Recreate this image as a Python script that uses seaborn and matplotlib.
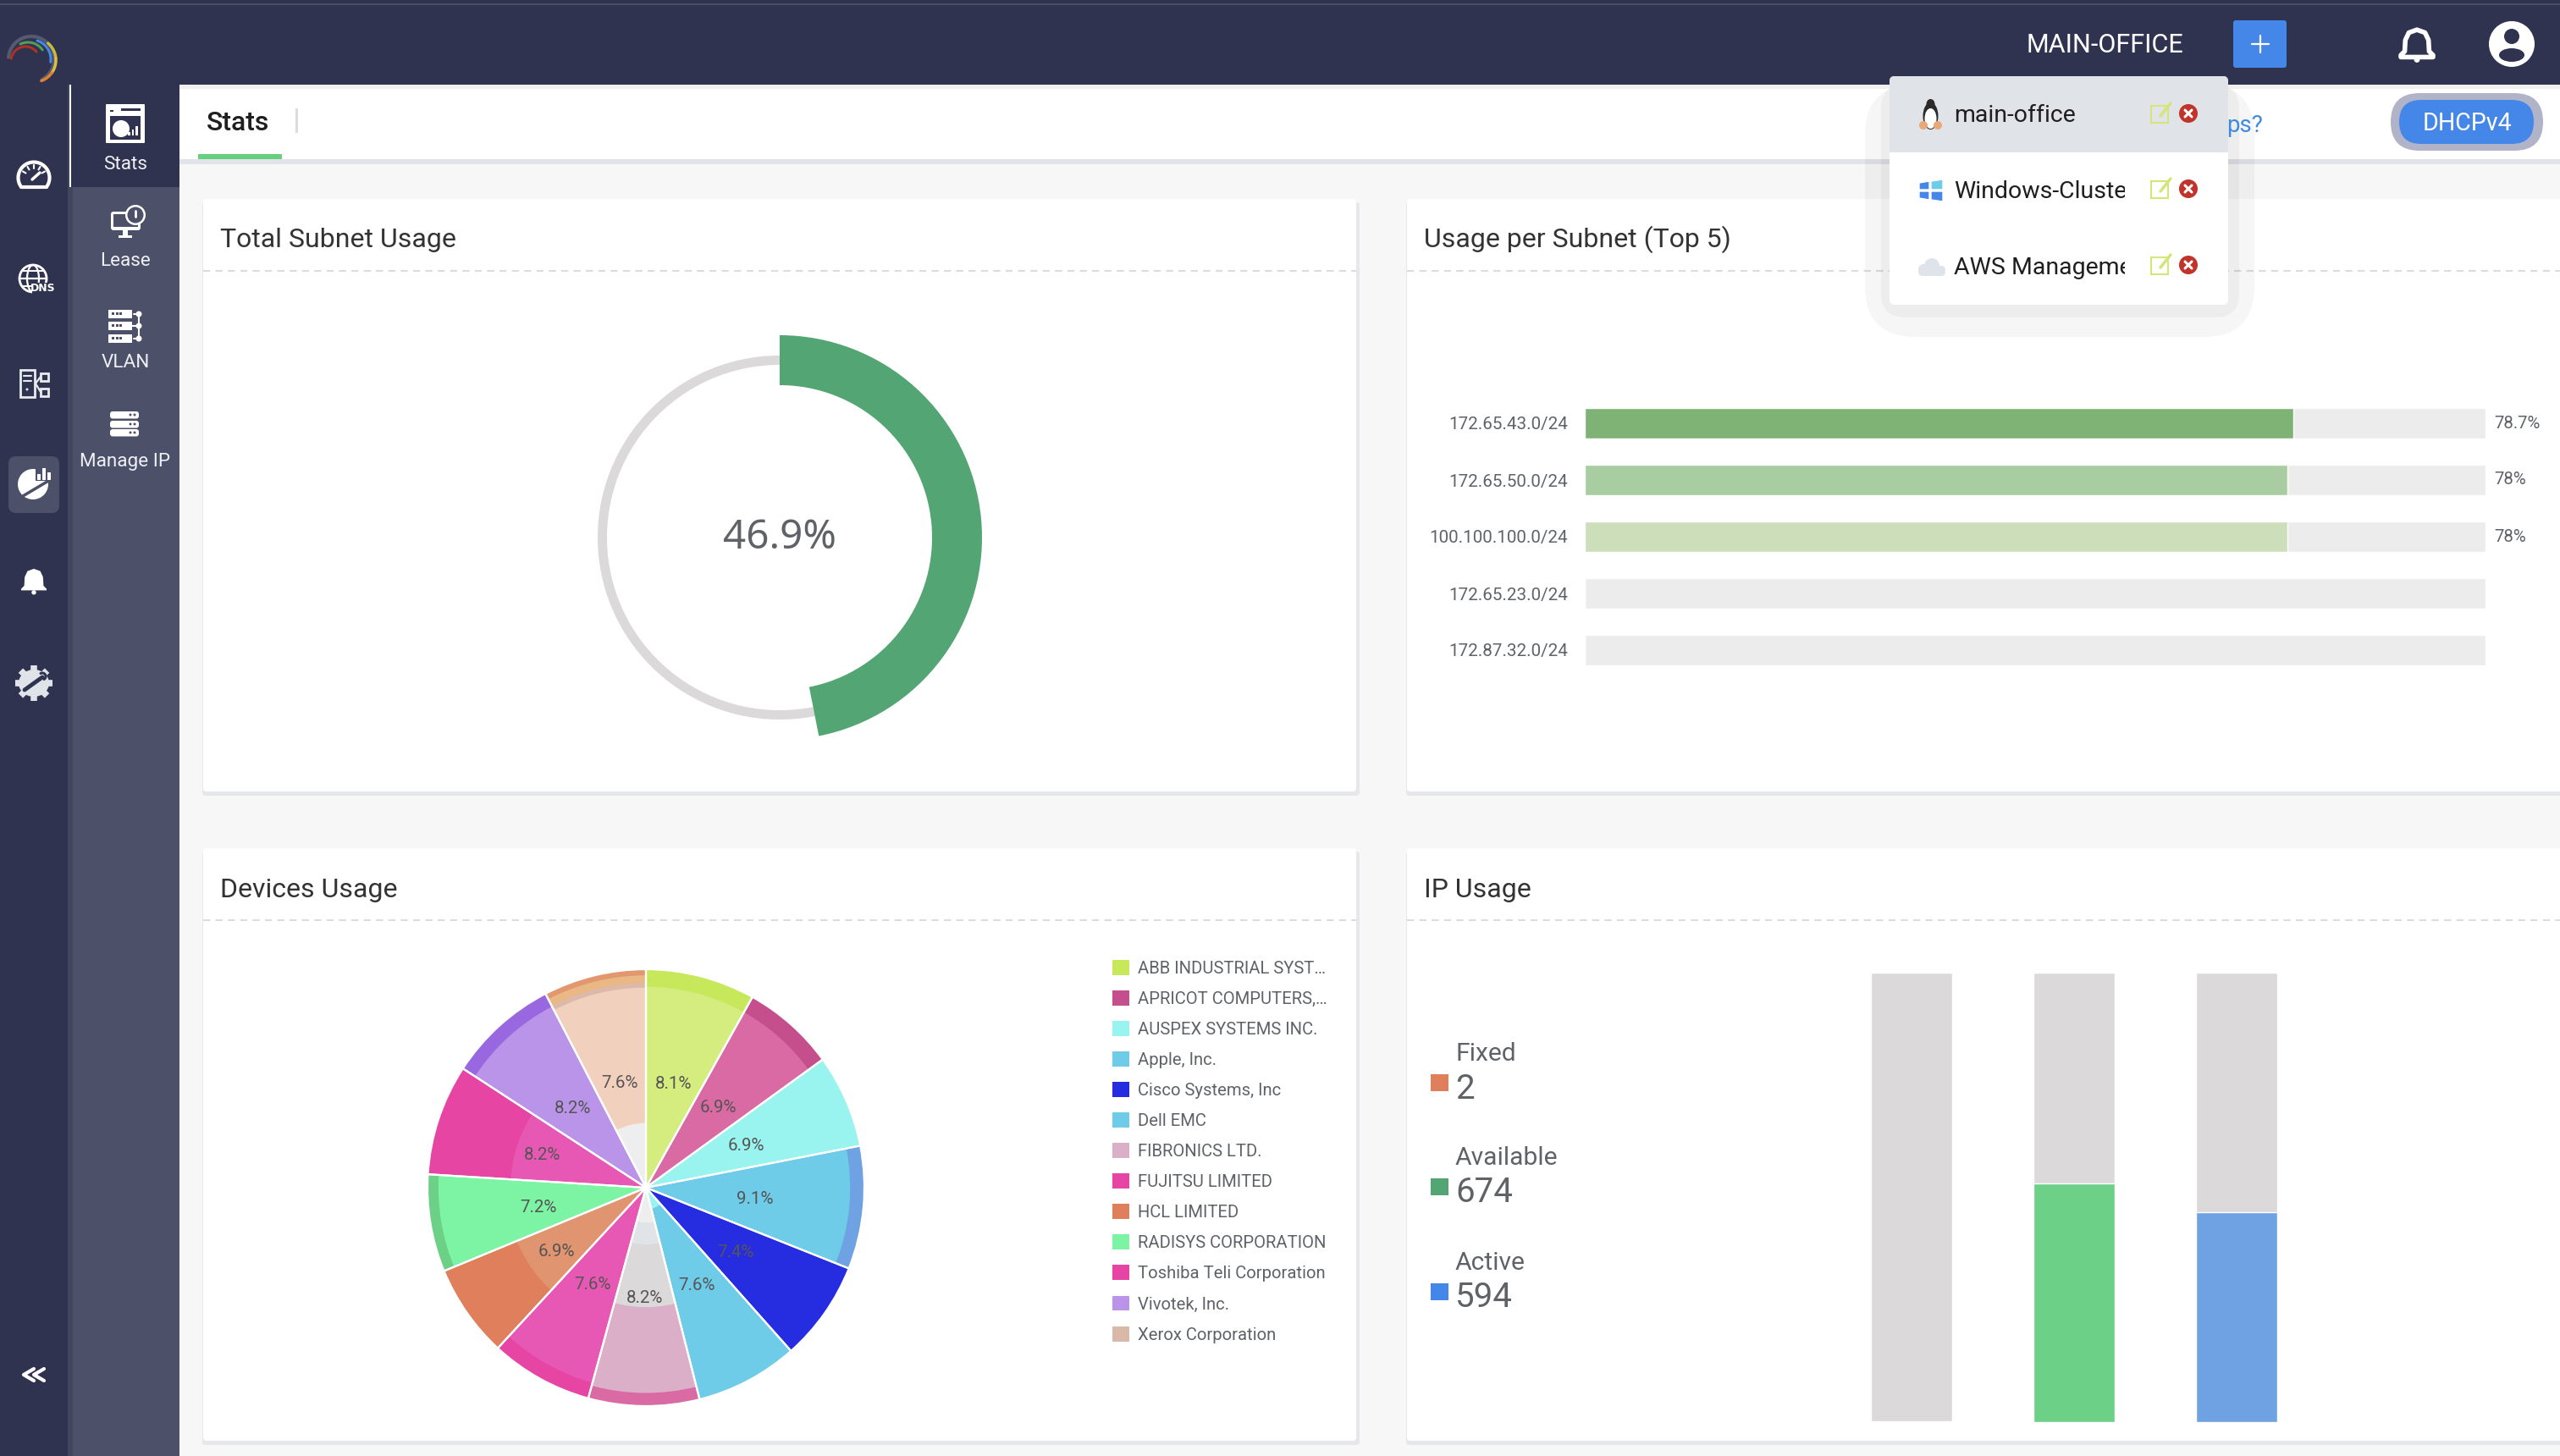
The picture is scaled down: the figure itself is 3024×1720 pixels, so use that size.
import numpy as np
import pandas as pd
import matplotlib
matplotlib.use("Agg")
import matplotlib.pyplot as plt
from matplotlib.patches import Rectangle, Circle, Ellipse, FancyBboxPatch, Patch, Polygon
from matplotlib.transforms import Bbox, TransformedBbox
import seaborn as sns

# ---------- data ----------
total_usage = 46.9
subnet_names = ["172.65.43.0/24", "172.65.50.0/24", "100.100.100.0/24", "172.65.23.0/24", "172.87.32.0/24"]
subnet_usage = [78.7, 78, 78, 0, 0]
subnet_track = [100, 100, 100, 100, 100]
subnet_colors = ["#7fb375", "#a8cda0", "#cddebb", "#ececec", "#ececec"]

device_names = ["ABB INDUSTRIAL SYST…", "APRICOT COMPUTERS,…", "AUSPEX SYSTEMS INC.", "Apple, Inc.",
                "Cisco Systems, Inc", "Dell EMC", "FIBRONICS LTD.", "FUJITSU LIMITED", "HCL LIMITED",
                "RADISYS CORPORATION", "Toshiba Teli Corporation", "Vivotek, Inc.", "Xerox Corporation"]
device_share = [8.1, 6.9, 6.9, 9.1, 7.4, 7.6, 8.2, 7.6, 6.9, 7.2, 8.2, 8.2, 7.6]
device_colors = ["#c8e85c", "#c54f8d", "#99f3ef", "#6ecce9", "#262de0", "#6ecce9", "#dcafc9",
                 "#e645a4", "#df7f5b", "#7cf4a4", "#e645a4", "#b994e8", "#dbb9a8"]

ip_names = ["Fixed", "Available", "Active"]
ip_counts = [2, 674, 594]
ip_bar_colors = ["#df7f5b", "#6dd087", "#6fa2e3"]
ip_key_colors = ["#df7f5b", "#53a673", "#4587e8"]

# radial colour bands seen inside each pie slice (outer fraction of the radius, colour)
slice_bands = [
    [(1, "#c8e85c"), (.92, "#d5ec7e")],
    [(1, "#c54f8d"), (.92, "#d96aa4")],
    [(1, "#99f3ef")],
    [(1, "#6fa2e3"), (.935, "#6ecce9")],
    [(1, "#262de0")],
    [(1, "#6ecce9"), (.1, "#99f3ef")],
    [(1, "#d96aa4"), (.94, "#dcafc9"), (.547, "#dbd9da"), (.26, "#e0e3e8"), (.16, "#eeeeee")],
    [(1, "#e645a4"), (.926, "#e758b4")],
    [(1, "#df7f5b"), (.64, "#e09470")],
    [(1, "#6dd087"), (.95, "#7cf4a4")],
    [(1, "#e645a4"), (.62, "#e758b4")],
    [(1, "#9968e0"), (.934, "#b994e8")],
    [(1, "#e3976f"), (.972, "#e9b884"), (.937, "#dcb9ab"), (.916, "#f1d1bd"), (.296, "#eeeeee")],
]

# ---------- setup ----------
W, H = 3024, 1720
sns.set_theme(style="white")
plt.rcParams["font.family"] = ["Roboto", "DejaVu Sans"]
fig = plt.figure(figsize=(W / 100, H / 100), dpi=100, facecolor="#f7f7f7")
NAVY, SLATE, GREY_TXT, BLUE = "#2f3350", "#4c5068", "#5f6368", "#4587e8"


def axes_px(x0, y0, x1, y1, **kw):
    return fig.add_axes([x0 / W, 1 - y1 / H, (x1 - x0) / W, (y1 - y0) / H], **kw)


bg = axes_px(0, 0, W, H)
bg.set_xlim(0, W)
bg.set_ylim(H, 0)
bg.axis("off")


def rect(x0, y0, x1, y1, c, r=0, z=1, **kw):
    if r:
        p = FancyBboxPatch((x0, y0), x1 - x0, y1 - y0, boxstyle=f"round,pad=0,rounding_size={r}", fc=c, ec="none", zorder=z, **kw)
    else:
        p = Rectangle((x0, y0), x1 - x0, y1 - y0, fc=c, ec="none", zorder=z, **kw)
    bg.add_patch(p)
    return p


def disc(x, y, r, c, z=3, rx=None):
    bg.add_patch(Ellipse((x, y), 2 * (rx or r), 2 * r, fc=c, ec="none", zorder=z))


def line(xs, ys, c="white", lw=2, z=3, **kw):
    bg.plot(xs, ys, color=c, lw=lw, zorder=z, solid_capstyle=kw.pop("cap", "round"), **kw)


def arc(cx, cy, r, a0, a1, c="white", lw=2, z=3):
    a = np.radians(np.linspace(a0, a1, 40))
    line(cx + r * np.cos(a), cy - r * np.sin(a), c, lw, z)


def txt(x, y, s, size, c=GREY_TXT, ha="left", va="center", z=5, **kw):
    return bg.text(x, y, s, fontsize=size, color=c, ha=ha, va=va, zorder=z, **kw)


def bell(cx, cy, s, fc="white", outline=False):
    xs = np.array([-.5, -.38, -.36, -.25, 0, .25, .36, .38, .5, .5, -.5]) * s
    ys = np.array([.32, .2, -.15, -.38, -.47, -.38, -.15, .2, .32, .38, .38]) * s
    bg.add_patch(Polygon(np.c_[cx + xs, cy + ys], closed=True, fc=fc if not outline else "none", ec=fc, lw=4 if outline else 0, zorder=3, joinstyle="round"))
    disc(cx, cy + .46 * s, .09 * s, fc)


# ---------- page chrome ----------
rect(0, 0, W, 100, NAVY)
rect(0, 4, W, 6, "#4b4f68", z=2)
rect(0, 100, 80, H, NAVY)
rect(80, 100, 86, H, "#41455e")
rect(86, 100, 212, H, SLATE)
rect(82, 100, 212, 221, NAVY, z=2)
rect(82, 100, 84, 221, "white", z=3)
rect(212, 100, W, 105, "#f0f0f0")
rect(212, 105, W, 188, "white")
rect(212, 188, W, 194, "#e0e3e8")
rect(234, 182, 333, 188, "#66d07f", z=2)
rect(349, 128, 352, 157, "#dcdcdc", z=2)
txt(244, 145, "Stats", 23, "#1f1f1f", fontweight="medium")

# cards
cards = [(240, 235, 1602, 935, "Total Subnet Usage", 48), (1662, 235, 3060, 935, "Usage per Subnet (Top 5)", 48),
         (240, 1002, 1602, 1702, "Devices Usage", 50), (1662, 1002, 3060, 1702, "IP Usage", 50)]
for x0, y0, x1, y1, title, dy in cards:
    rect(x0 - 1, y0 + 4, x1 + 4, y1 + 5, "#e6e7ea", r=4, z=1)
    rect(x0, y0, x1, y1, "white", r=4, z=1.2)
    txt(x0 + 20, y0 + dy, title, 23, "#333333")
    line([x0, x1], [y0 + 85, y0 + 85], "#dcdcdc", 1.5, 1.5, linestyle=(0, (4, 3)), cap="butt")

# top bar content
txt(2394, 54, "MAIN-OFFICE", 22.1, "white")
rect(2638, 24, 2701, 80, BLUE, r=3)
line([2669.5, 2669.5], [42, 62], "white", 1.6)
line([2659.5, 2679.5], [52, 52], "white", 1.6)
bell(2855, 53, 38, "white", outline=True)
disc(2967, 52, 27, "white")
disc(2967, 43, 9, NAVY, z=4)
disc(2967, 65, 8, NAVY, z=4, rx=15)

# header right
rect(2824, 110, 3004, 178, "#b1b3c9", r=34, z=2)
rect(2834, 118, 2993, 170, BLUE, r=26, z=3)
txt(2914, 146, "DHCPv4", 20.6, "white", ha="center")

# dropdown with translucent halo
rect(2203, 100, 2663, 398, "black", r=60, z=6, alpha=.035)
rect(2222, 100, 2645, 375, "black", r=28, z=6.1, alpha=.035)
txt(2630, 149, "ps?", 20, "#3f8ae0", z=6.15)
rect(2232, 90, 2632, 360, "white", r=6, z=6.2)
rect(2232, 90, 2632, 180, "#e0e3e8", r=6, z=6.3)
rect(2232, 130, 2632, 180, "#e0e3e8", z=6.3)
for s, y in zip(["main-office", "Windows-Cluster", "AWS Management"], [135, 224, 314]):
    t = txt(2308, y + 2, s, 20.5, "#1f1f1f", z=7)
    t.set_clip_box(TransformedBbox(Bbox([[2300, y - 30], [2510, y + 30]]), bg.transData))
    t.set_clip_on(True)
    rect(2541, y - 10, 2561, y + 10, "none", z=7).set(ec="#d5e57a", lw=1.5)
    line([2552, 2564], [y + 2, y - 13], "#d5e57a", 2.5, 7.1)
    disc(2585, y - 1, 11, "#c0342b", z=7)
    line([2581, 2589], [y - 5, y + 3], "white", 2.2, 7.1)
    line([2589, 2581], [y - 5, y + 3], "white", 2.2, 7.1)
# penguin
disc(2280.5, 137, 16, "#2a2a2a", z=7, rx=9)
disc(2280.5, 123, 6, "#2a2a2a", z=7, rx=5)
disc(2280.5, 140, 12, "white", z=7.1, rx=7)
disc(2272, 148, 5, "#e8a878", z=7.2, rx=5)
disc(2289, 148, 5, "#e8a878", z=7.2, rx=5)
# windows
bg.add_patch(Polygon([(2267, 216), (2279, 214), (2279, 224), (2267, 224)], fc="#4587e8", zorder=7))
bg.add_patch(Polygon([(2281, 214), (2295, 212), (2295, 224), (2281, 224)], fc="#6ecce9", zorder=7))
bg.add_patch(Polygon([(2267, 226), (2279, 226), (2279, 236), (2267, 234)], fc="#4587e8", zorder=7))
bg.add_patch(Polygon([(2281, 226), (2295, 226), (2295, 238), (2281, 236)], fc="#4587e8", zorder=7))
# cloud
rect(2266, 314, 2298, 326, "#dfe3ea", r=5, z=7)
disc(2282, 314, 9, "#dfe3ea", z=7)
disc(2272, 318, 6, "#dfe3ea", z=7)

# sidebar sub-menu
for s, y in zip(["Stats", "Lease", "VLAN", "Manage IP"], [194, 309, 428, 545]):
    txt(148, y, s, 16.2, "#eef0f4", ha="center")
rect(125, 123, 171, 169, "white", r=1, z=3)
rect(130, 137, 166, 165, NAVY, z=3.1)
rect(130, 130, 134, 132, NAVY, z=3.1)
rect(143, 128, 166, 131, NAVY, z=3.1)
disc(143, 152, 10, "white", z=3.2)
for i, h in enumerate([4, 7, 11]):
    rect(151 + i * 4.5, 160 - h, 153.5 + i * 4.5, 160, "white", z=3.2)
# lease
rect(131, 250, 166, 272, "white", r=3, z=3)
rect(134, 253, 163, 268, SLATE, z=3.1)
rect(145, 272, 151, 278, "white", z=3)
rect(140, 278, 156, 281, "white", z=3)
disc(160, 254, 12, "white", z=3.2)
disc(160, 254, 9.5, SLATE, z=3.3)
line([160, 160], [249, 256], "white", 2, 3.4)
# vlan
for y in [366, 380, 395]:
    rect(128, y, 156, y + 10, "white", z=3)
    for i in range(3):
        rect(132 + i * 4.5, y + 3, 135 + i * 4.5, y + 6, SLATE, z=3.1)
    disc(164, y + 5, 3.5, "white")
line([158, 164, 164, 158], [371, 371, 400, 400], "white", 1.5)
line([156, 164], [385, 385], "white", 1.5)
# manage ip
for y in [486, 497, 507]:
    rect(130, y, 164, y + 8.5, "white", r=3, z=3)
    disc(154, y + 4, 1.5, SLATE, z=3.1)
    disc(159, y + 4, 1.5, SLATE, z=3.1)

# rail icons
arc(37, 70, 27, 175, 20, "#555a70", 3)
arc(37, 70, 27, 20, -62, "#555a70", 3)
arc(30, 72, 17, 170, 40, "#b03028", 2.2, 4)
arc(33, 71, 21, 115, 35, "#4f9e58", 2.2, 4)
arc(37, 70, 23, 72, -8, "#4587e8", 2.2, 4)
arc(40, 71, 26, 50, 5, "#c9b93c", 2.5, 4)
arc(40, 71, 26, 5, -35, "#d8c040", 2.5, 4)
arc(40, 71, 26, -35, -70, "#e08030", 2.5, 4)
# gauge
arc(40, 210, 18.5, -35, 215, "white", 3)
line([25, 55], [221, 221], "white", 3)
line([38, 47], [212, 204], "white", 2.5)
for a in [150, 120, 90, 60, 30]:
    line([40 + 11 * np.cos(np.radians(a)), 40 + 15 * np.cos(np.radians(a))],
         [210 - 11 * np.sin(np.radians(a)), 210 - 15 * np.sin(np.radians(a))], "white", 1.5)
# globe DNS
bg.add_patch(Circle((39, 329), 16, fc="none", ec="white", lw=2, zorder=3))
bg.add_patch(Ellipse((39, 329), 14, 32, fc="none", ec="white", lw=1.6, zorder=3))
line([24, 54], [329, 329], "white", 1.6)
line([27, 51], [320, 320], "white", 1.4)
line([27, 51], [338, 338], "white", 1.4)
rect(38, 334, 65, 347, NAVY, z=3.5)
txt(51, 340.5, "DNS", 9, "white", ha="center", fontweight="bold", family="DejaVu Sans")
# server tree
bg.add_patch(Rectangle((24, 437), 17, 32, fc="none", ec="#e8eaee", lw=2, zorder=3))
line([28, 37], [444, 444], "#e8eaee", 1.5)
line([28, 37], [450, 450], "#e8eaee", 1.5)
disc(32, 460, 1.5, "#e8eaee")
for y in [441, 459]:
    bg.add_patch(Rectangle((48, y), 9, 9, fc="none", ec="#e8eaee", lw=2, zorder=3))
line([48, 42, 48], [445, 453, 463], "#e8eaee", 1.6)
# active pie icon
rect(10, 539, 70, 606, SLATE, r=9, z=2)
disc(39, 572, 18, "white", z=3)
rect(42, 550, 60, 568, SLATE, z=3.1)
line([27, 59], [586, 567], SLATE, 2.5, 3.2)
for i, h in enumerate([7, 14, 9]):
    rect(44 + i * 6, 567 - h, 47.5 + i * 6, 567, "white", z=3.3)
bell(40, 686, 30, "white")
# gear
disc(40, 807, 16, "#e0e3e8", rx=18)
for a in np.arange(0, 360, 45):
    c, s = np.cos(np.radians(a)), np.sin(np.radians(a))
    line([40 + 16 * c, 40 + 22 * c], [807 + 15 * s, 807 + 21 * s], "#e0e3e8", 5.5, cap="butt")
line([29, 50], [815, 800], NAVY, 3.5, 3.5)
arc(50, 799, 4, 120, -60, NAVY, 2.2, 3.6)
# collapse
line([40, 28, 40], [1617, 1624, 1631], "white", 3)
line([52, 40, 52], [1617, 1624, 1631], "white", 3)

# ---------- donut ----------
R_out = 239
ax = axes_px(921 - 246, 635 - 246, 921 + 246, 635 + 246)
rest = 100 - total_usage
ax.pie([total_usage, rest], colors=["#dbd9da", "#dbd9da"], radius=215 / R_out, startangle=90, counterclock=False,
       wedgeprops=dict(width=11 / R_out, lw=0))
ax.pie([total_usage, rest], colors=["#53a673", "none"], radius=1, startangle=90, counterclock=False,
       wedgeprops=dict(width=59 / R_out, lw=0))
ax.set_xlim(-246 / R_out, 246 / R_out)
ax.set_ylim(-246 / R_out, 246 / R_out)
ax.patch.set_alpha(0)
txt(921, 636, f"{total_usage}%", 34.3, GREY_TXT, ha="center", z=5, family="Noto Sans", fontweight="medium")

# ---------- subnet bars ----------
ax = axes_px(1872, 466.5, 2936, 801.5)
df = pd.DataFrame(dict(subnet=subnet_names, usage=subnet_usage, track=subnet_track))
sns.barplot(data=df, x="track", y="subnet", color="#ececec", saturation=1, width=36 / 67, errorbar=None, ax=ax)
ax.bar_label(ax.containers[0], labels=[f"{v:g}%" if v else "" for v in subnet_usage], padding=7.2, fontsize=14.7, color=GREY_TXT)
sns.barplot(data=df, x="usage", y="subnet", hue="subnet", palette=subnet_colors, saturation=1, width=36 / 67,
            errorbar=None, legend=False, ax=ax)
ax.set(xlim=(0, 100), xlabel=None, ylabel=None, xticks=[])
ax.tick_params(axis="y", length=0, pad=14.4, labelsize=14.9, labelcolor=GREY_TXT)
ax.patch.set_alpha(0)
sns.despine(ax=ax, left=True, bottom=True)

# ---------- device pie ----------
R = 258
ax = axes_px(763 - 270, 1403 - 270, 763 + 270, 1403 + 270)
for r in sorted({b[0] for s in slice_bands for b in s}, reverse=True):
    cols = [next((c for q, c in s if q == r), "none") for s in slice_bands]
    ax.pie(device_share, colors=cols, radius=r, startangle=90, counterclock=False, wedgeprops=dict(lw=0))
_, _, pct = ax.pie(device_share, colors=["none"] * len(device_share), radius=1, startangle=90, counterclock=False,
                   autopct="%.1f%%", pctdistance=0.5, wedgeprops=dict(lw=1.6, edgecolor="white"))
for p in pct:
    p.set(fontsize=14.8, color="#555555")
    p.set_y(p.get_position()[1] - 2 / R)
ax.set_xlim(-270 / R, 270 / R)
ax.set_ylim(-270 / R, 270 / R)
ax.patch.set_alpha(0)
fs = 14.6
leg = fig.legend([Patch(fc=c, ec="none") for c in device_colors], device_names, loc="upper left",
                 bbox_to_anchor=(1314 / W, 1 - 1134 / H), frameon=False, fontsize=fs, borderpad=0, borderaxespad=0,
                 handlelength=14.4 / fs, handleheight=14.4 / fs, handletextpad=7.2 / fs, labelspacing=11.6 / fs,
                 labelcolor=GREY_TXT)

# ---------- IP usage ----------
ax = axes_px(2162, 1149, 2738, 1680)
ip_total = sum(ip_counts)
df = pd.DataFrame(dict(kind=ip_names, count=ip_counts, total=[ip_total] * 3))
sns.barplot(data=df, x="kind", y="total", color="#dbd9da", saturation=1, width=.5, errorbar=None, ax=ax)
sns.barplot(data=df, x="kind", y="count", hue="kind", palette=ip_bar_colors, saturation=1, width=.5,
            errorbar=None, legend=False, ax=ax)
ax.set(ylim=(0, ip_total), xlabel=None, ylabel=None, xticks=[], yticks=[])
ax.patch.set_alpha(0)
sns.despine(ax=ax, left=True, bottom=True)
for name, n, c, y in zip(ip_names, ip_counts, ip_key_colors, [1244, 1367, 1491]):
    txt(1719, y + 1, name, 21.6)
    txt(1719, y + 42, str(n), 29)
    rect(1690, y + 25, 1710.5, y + 45, c, z=3)

fig.savefig("out.png", dpi=100, facecolor=fig.get_facecolor())
